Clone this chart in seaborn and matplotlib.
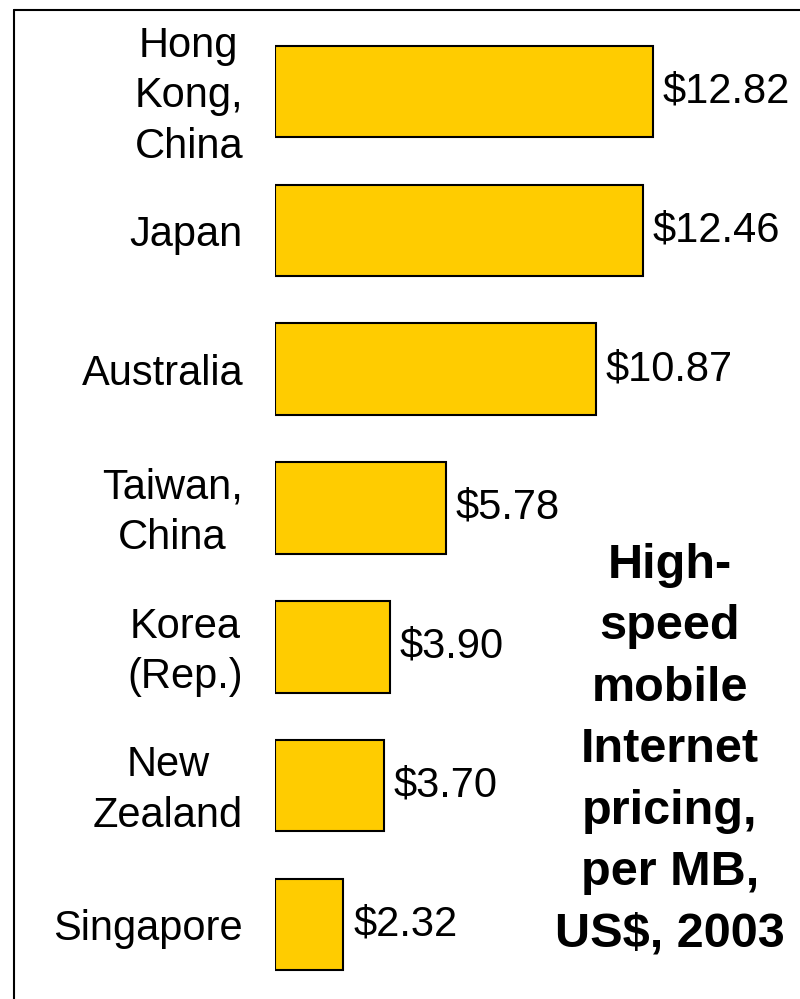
import matplotlib
matplotlib.use("Agg")
import matplotlib.pyplot as plt
import matplotlib.transforms as mtransforms
import seaborn as sns
import pandas as pd
from matplotlib.lines import Line2D

countries = ["Hong\nKong,\nChina", "Japan", "Australia", "Taiwan,\nChina",
             "Korea\n(Rep.)", "New\nZealand", "Singapore"]
prices = [12.82, 12.46, 10.87, 5.78, 3.90, 3.70, 2.32]
value_labels = ["$12.82", "$12.46", "$10.87", "$5.78", "$3.90", "$3.70", "$2.32"]
title = "High-\nspeed\nmobile\nInternet\npricing,\nper MB,\nUS$, 2003"

sns.set_style("white")
plt.rcParams["font.family"] = ["Liberation Sans", "DejaVu Sans"]
plt.rcParams["text.color"] = "black"
plt.rcParams["ytick.color"] = "black"
plt.rcParams["ytick.labelcolor"] = "black"

df = pd.DataFrame({"country": countries, "price": prices})

fig = plt.figure(figsize=(8, 9.99), dpi=100)
ax = fig.add_axes([275 / 800, 0, 525 / 800, 1])
sns.barplot(data=df, x="price", y="country", orient="h", color="#FFCC00",
            saturation=1, edgecolor="black", linewidth=1.5, width=0.66, ax=ax)

ax.set_xlim(0, 525 / 29.5)
ax.set_ylim(6.537, -0.659)
ax.bar_label(ax.containers[0], labels=value_labels, padding=7, fontsize=30,
             color="black")

ax.set_xlabel("")
ax.set_ylabel("")
ax.set_xticks([])
ax.tick_params(axis="y", length=0, pad=23, labelsize=30, labelcolor="black")
shift = mtransforms.ScaledTranslation(0, -3.6 / 72, fig.dpi_scale_trans)
for lbl in ax.get_yticklabels():
    lbl.set_multialignment("center")
    lbl.set_linespacing(1.34)
    if "\n" in lbl.get_text():
        lbl.set_verticalalignment("center")
        lbl.set_transform(lbl.get_transform() + shift)
sns.despine(ax=ax, left=True, bottom=True)

# frame lines on the top and left of the slide
fig.add_artist(Line2D([13.5 / 800, 13.5 / 800], [0, 1 - 10 / 999],
                      transform=fig.transFigure, color="black", lw=1.5))
fig.add_artist(Line2D([13.5 / 800, 1], [1 - 10 / 999, 1 - 10 / 999],
                      transform=fig.transFigure, color="black", lw=1.5))

fig.text(670 / 800, 1 - 543 / 999, title, ha="center", va="top",
         fontsize=35, fontweight="bold", linespacing=1.47, color="black")

fig.savefig("out.png", dpi=100)
